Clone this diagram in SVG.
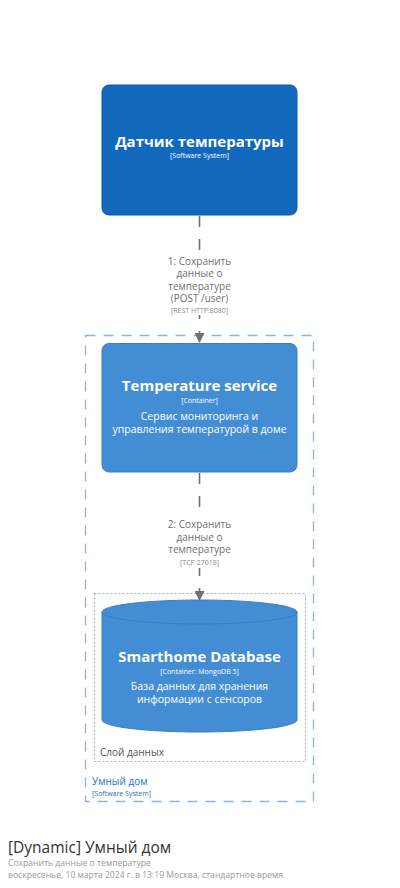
<svg xmlns="http://www.w3.org/2000/svg" width="400" height="888" viewBox="0 0 400 888">
<style>
text{font-family:"Open Sans","Noto Sans","DejaVu Sans",sans-serif;}
.t{font-weight:bold;font-size:15px;fill:#ffffff;text-anchor:middle;}
.m{font-size:7px;fill:#ffffff;text-anchor:middle;}
.d{font-size:10.5px;fill:#ffffff;text-anchor:middle;}
.l{font-size:10px;fill:#707070;text-anchor:middle;}
.lm{font-size:7px;fill:#8a8a8a;text-anchor:middle;}
.conn{stroke:#707070;stroke-width:1.6;stroke-dasharray:11,12;fill:none;}
</style>
<defs>
<marker id="arr" viewBox="0 0 10 10" refX="10" refY="5" markerWidth="10" markerHeight="10" markerUnits="userSpaceOnUse" orient="auto">
<path d="M0,0 L10,5 L0,10 z" fill="#707070"/>
</marker>
</defs>
<rect width="400" height="888" fill="#ffffff"/>
<g id="boundary-smarthome">
<rect x="85.5" y="335.5" width="228" height="466" fill="none" stroke="#8fb3da" stroke-width="1.3" stroke-dasharray="10,8"/>
<text x="92" y="785" style="font-size:10px;fill:#1f6fc0;">Умный дом</text>
<text x="92" y="795.5" style="font-size:7px;fill:#1f6fc0;">[Software System]</text>
</g>
<g id="boundary-datalayer">
<rect x="94.5" y="593.5" width="211" height="168" fill="none" stroke="#aaaaaa" stroke-width="1" stroke-dasharray="2,2"/>
<text x="100" y="756" style="font-size:10px;fill:#555555;">Слой данных</text>
</g>
<g id="connectors">
<line class="conn" x1="199.5" y1="216" x2="199.5" y2="343" marker-end="url(#arr)"/>
<rect x="160" y="255" width="80" height="60" fill="#ffffff"/>
<text class="l" x="199.5" y="264.5"><tspan x="199.5" dy="0">1: Сохранить</tspan><tspan x="199.5" dy="12.5">данные о</tspan><tspan x="199.5" dy="12.5">температуре</tspan><tspan x="199.5" dy="12.5">(POST /user)</tspan><tspan x="199.5" dy="11" style="font-size:7px;fill:#8a8a8a;">[REST HTTP:8080]</tspan></text>
<line class="conn" x1="199.5" y1="473" x2="199.5" y2="601" marker-end="url(#arr)"/>
<rect x="160" y="518" width="80" height="50" fill="#ffffff"/>
<text class="l" x="199.5" y="528"><tspan x="199.5" dy="0">2: Сохранить</tspan><tspan x="199.5" dy="12.5">данные о</tspan><tspan x="199.5" dy="12.5">температуре</tspan><tspan x="199.5" dy="12" style="font-size:7px;fill:#8a8a8a;">[TCP 27018]</tspan></text>
</g>
<g id="node-sensor">
<rect x="102" y="85" width="195" height="130" rx="7" fill="#1168bd" stroke="#0e5aa6" stroke-width="1"/>
<text class="t" x="199.5" y="147">Датчик температуры</text>
<text class="m" x="199.5" y="158">[Software System]</text>
</g>
<g id="node-temperature-service">
<rect x="102" y="343.5" width="195" height="128.5" rx="7" fill="#438dd5" stroke="#3c7fc0" stroke-width="1"/>
<text class="t" x="199.5" y="391">Temperature service</text>
<text class="m" x="199.5" y="403">[Container]</text>
<text class="d" x="199.5" y="420"><tspan x="199.5" dy="0">Сервис мониторинга и</tspan><tspan x="199.5" dy="13">управления температурой в доме</tspan></text>
</g>
<g id="node-database">
<path d="M102,612 A97.5,12 0 0 1 297,612 L297,720 A97.5,12 0 0 1 102,720 Z" fill="#438dd5" stroke="#3c7fc0" stroke-width="1"/>
<path d="M102,612 A97.5,12 0 0 0 297,612" fill="none" stroke="#3a7cbd" stroke-width="1"/>
<text class="t" x="199.5" y="662">Smarthome Database</text>
<text class="m" x="199.5" y="674">[Container: MongoDB 5]</text>
<text class="d" x="199.5" y="690"><tspan x="199.5" dy="0">База данных для хранения</tspan><tspan x="199.5" dy="13">информации с сенсоров</tspan></text>
</g>
<g id="title">
<text x="8" y="853" style="font-size:15.5px;fill:#333333;">[Dynamic] Умный дом</text>
<text x="8" y="866" style="font-size:8.6px;fill:#999999;"><tspan x="8" dy="0">Сохранить данные о температуре</tspan><tspan x="8" dy="12">воскресенье, 10 марта 2024 г. в 13:19 Москва, стандартное время</tspan></text>
</g>
</svg>
